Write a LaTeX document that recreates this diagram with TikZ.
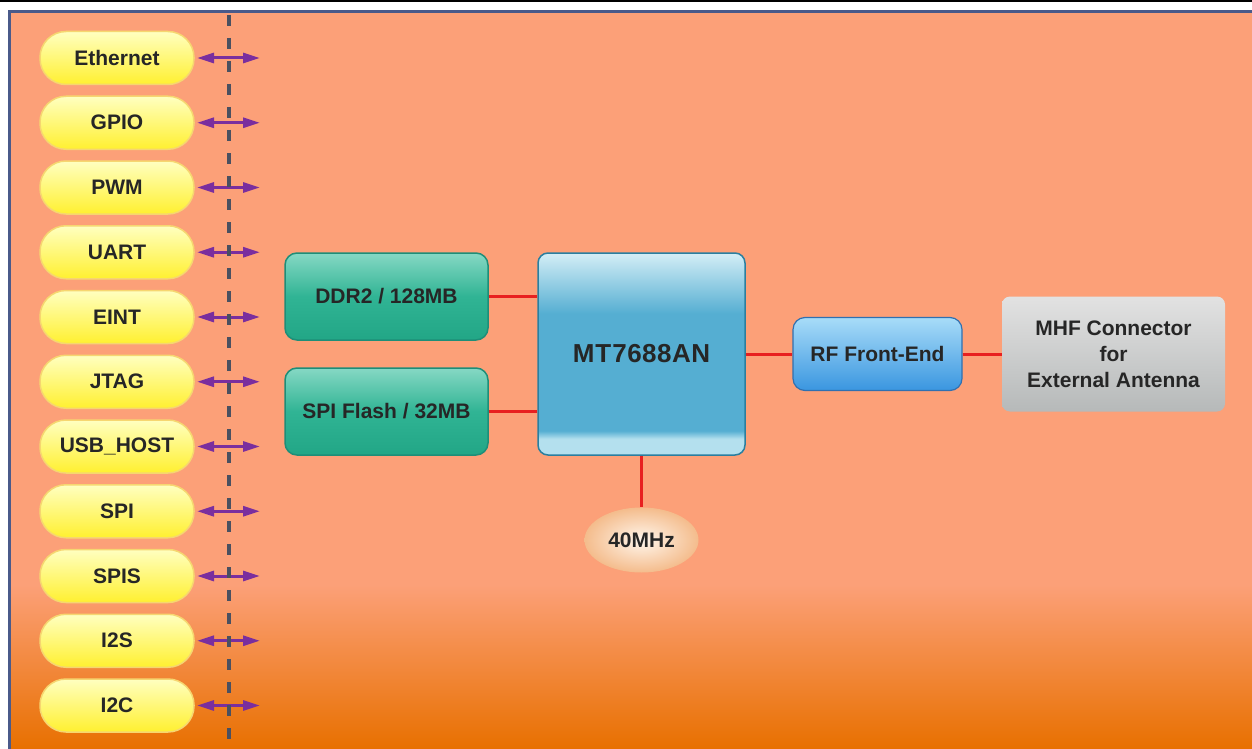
\documentclass[tikz,border=0pt]{standalone}
\usepackage{fontspec}
\setmainfont{Liberation Sans}
\usetikzlibrary{arrows.meta,shapes.geometric}
\definecolor{bgtop}{HTML}{FCA078}
\definecolor{bgbot}{HTML}{E87000}
\definecolor{bordblue}{HTML}{4A5A8A}
\definecolor{dashgray}{HTML}{4A5060}
\definecolor{arrowpurple}{HTML}{7A2E9E}
\definecolor{txt}{HTML}{262626}
\definecolor{pilltop}{HTML}{FFFFC0}
\definecolor{pillbot}{HTML}{FFF030}
\definecolor{pilledge}{HTML}{F6D670}
\definecolor{grtop}{HTML}{86D8C4}
\definecolor{grmid}{HTML}{30B494}
\definecolor{grbot}{HTML}{22A686}
\definecolor{gredge}{HTML}{1E8E78}
\definecolor{mtblue}{HTML}{55AED2}
\definecolor{mtlight}{HTML}{D4EEF6}
\definecolor{mtband}{HTML}{B4E0EE}
\definecolor{mtedge}{HTML}{2A7FA0}
\definecolor{rftop}{HTML}{A8DCF8}
\definecolor{rfbot}{HTML}{3A96E0}
\definecolor{rfedge}{HTML}{3070B0}
\definecolor{mhftop}{HTML}{E2E2E2}
\definecolor{mhfbot}{HTML}{B6B9B9}
\definecolor{oscin}{HTML}{FFF6EC}
\definecolor{oscout}{HTML}{F4BC8C}
\definecolor{wire}{HTML}{E82020}
\pgfdeclareverticalshading{mtshade}{100bp}{color(0bp)=(mtband); color(25bp)=(mtband); color(26bp)=(mtband); color(29bp)=(mtband); color(31bp)=(mtblue); color(60bp)=(mtblue); color(75bp)=(mtlight); color(100bp)=(mtlight)}
\begin{document}
\begin{tikzpicture}[x=1pt,y=-1pt,
  every node/.style={font=\bfseries\fontsize{21}{26}\selectfont, text=txt},
  pill/.style={draw=pilledge, line width=1.5pt, top color=pilltop, bottom color=pillbot,
     rounded corners=26pt, minimum width=154pt, minimum height=53pt, inner sep=0pt},
  greenbox/.style={draw=gredge, line width=1.5pt, top color=grtop, bottom color=grbot, middle color=grmid,
     rounded corners=12pt, minimum width=203pt, minimum height=87pt, inner sep=0pt},
  chip/.style={draw=mtedge, line width=1.5pt, shading=mtshade, rounded corners=10pt,
     minimum width=207pt, minimum height=202pt, inner sep=0pt, font=\bfseries\fontsize{26}{30}\selectfont},
  rfbox/.style={draw=rfedge, line width=1.2pt, top color=rftop, bottom color=rfbot,
     rounded corners=12pt, minimum width=169pt, minimum height=73pt, inner sep=0pt},
  mhfbox/.style={top color=mhftop, bottom color=mhfbot, rounded corners=8pt,
     minimum width=223pt, minimum height=115pt, inner sep=0pt, align=center},
  osc/.style={ellipse, inner color=oscin, outer color=oscout, minimum width=114pt, minimum height=65pt, inner sep=0pt},
  redwire/.style={draw=wire, line width=3pt},
  dashline/.style={draw=dashgray, line width=4.5pt, dash pattern=on 11pt off 12pt, dash phase=-2pt},
  iface/.style={draw=arrowpurple, line width=3pt, {Triangle[length=17pt,width=10pt]}-{Triangle[length=17pt,width=10pt]}}
]
\useasboundingbox (0,0) rectangle (1252,749);
% frame and background
\fill[white] (0,0) rectangle (1252,749);
\fill[black] (0,0) rectangle (1252,2.5);
\fill[bgtop] (11,13) rectangle (1252,585);
\shade[top color=bgtop, bottom color=bgbot] (11,584.5) rectangle (1252,749);
\fill[bordblue] (8,10) rectangle (1252,13);
\fill[bordblue] (8,10) rectangle (11,749);

% interface pills and arrows
\foreach \n/\t [count=\i from 0] in {eth/Ethernet, gpio/GPIO, pwm/PWM, uart/UART, eint/EINT, jtag/JTAG, usb/USB\_HOST, spi/SPI, spis/SPIS, iis/I2S, iic/I2C}{
  \node[pill] (\n) at (117,{58+64.75*\i}) {\t};
  \coordinate (\n-l) at (197,{58+64.75*\i});
  \coordinate (\n-r) at (260,{58+64.75*\i});
  \draw[iface] (\n-l) -- (\n-r);
}
\coordinate (dtop) at (229,13);
\coordinate (dbot) at (229,749);
\draw[dashline] (dtop) -- (dbot);

% main blocks
\node[greenbox] (ddr) at (386.5,296.5) {DDR2 / 128MB};
\node[greenbox] (flash) at (386.5,411.5) {SPI Flash / 32MB};
\node[chip] (mt) at (641.5,354) {M\kern1pt T\kern1pt 7\kern0.5pt 6\kern0.5pt 8\kern0.5pt 8\kern0.5pt A\kern0.5pt N};
\node[rfbox] (rf) at (877.5,354) {RF Front-End};
\node[mhfbox] (mhf) at (1113.5,354) {MHF Connector\\for\\External Antenna};
\node[osc] (xtal) at (641.5,540) {40MHz};

% connectors
\draw[redwire] (ddr.east) -- (ddr.east -| mt.west);
\draw[redwire] (flash.east) -- (flash.east -| mt.west);
\draw[redwire] (mt.south) -- (xtal.north);
\draw[redwire] (mt.east) -- (rf.west);
\draw[redwire] (rf.east) -- (mhf.west);
\end{tikzpicture}
\end{document}
